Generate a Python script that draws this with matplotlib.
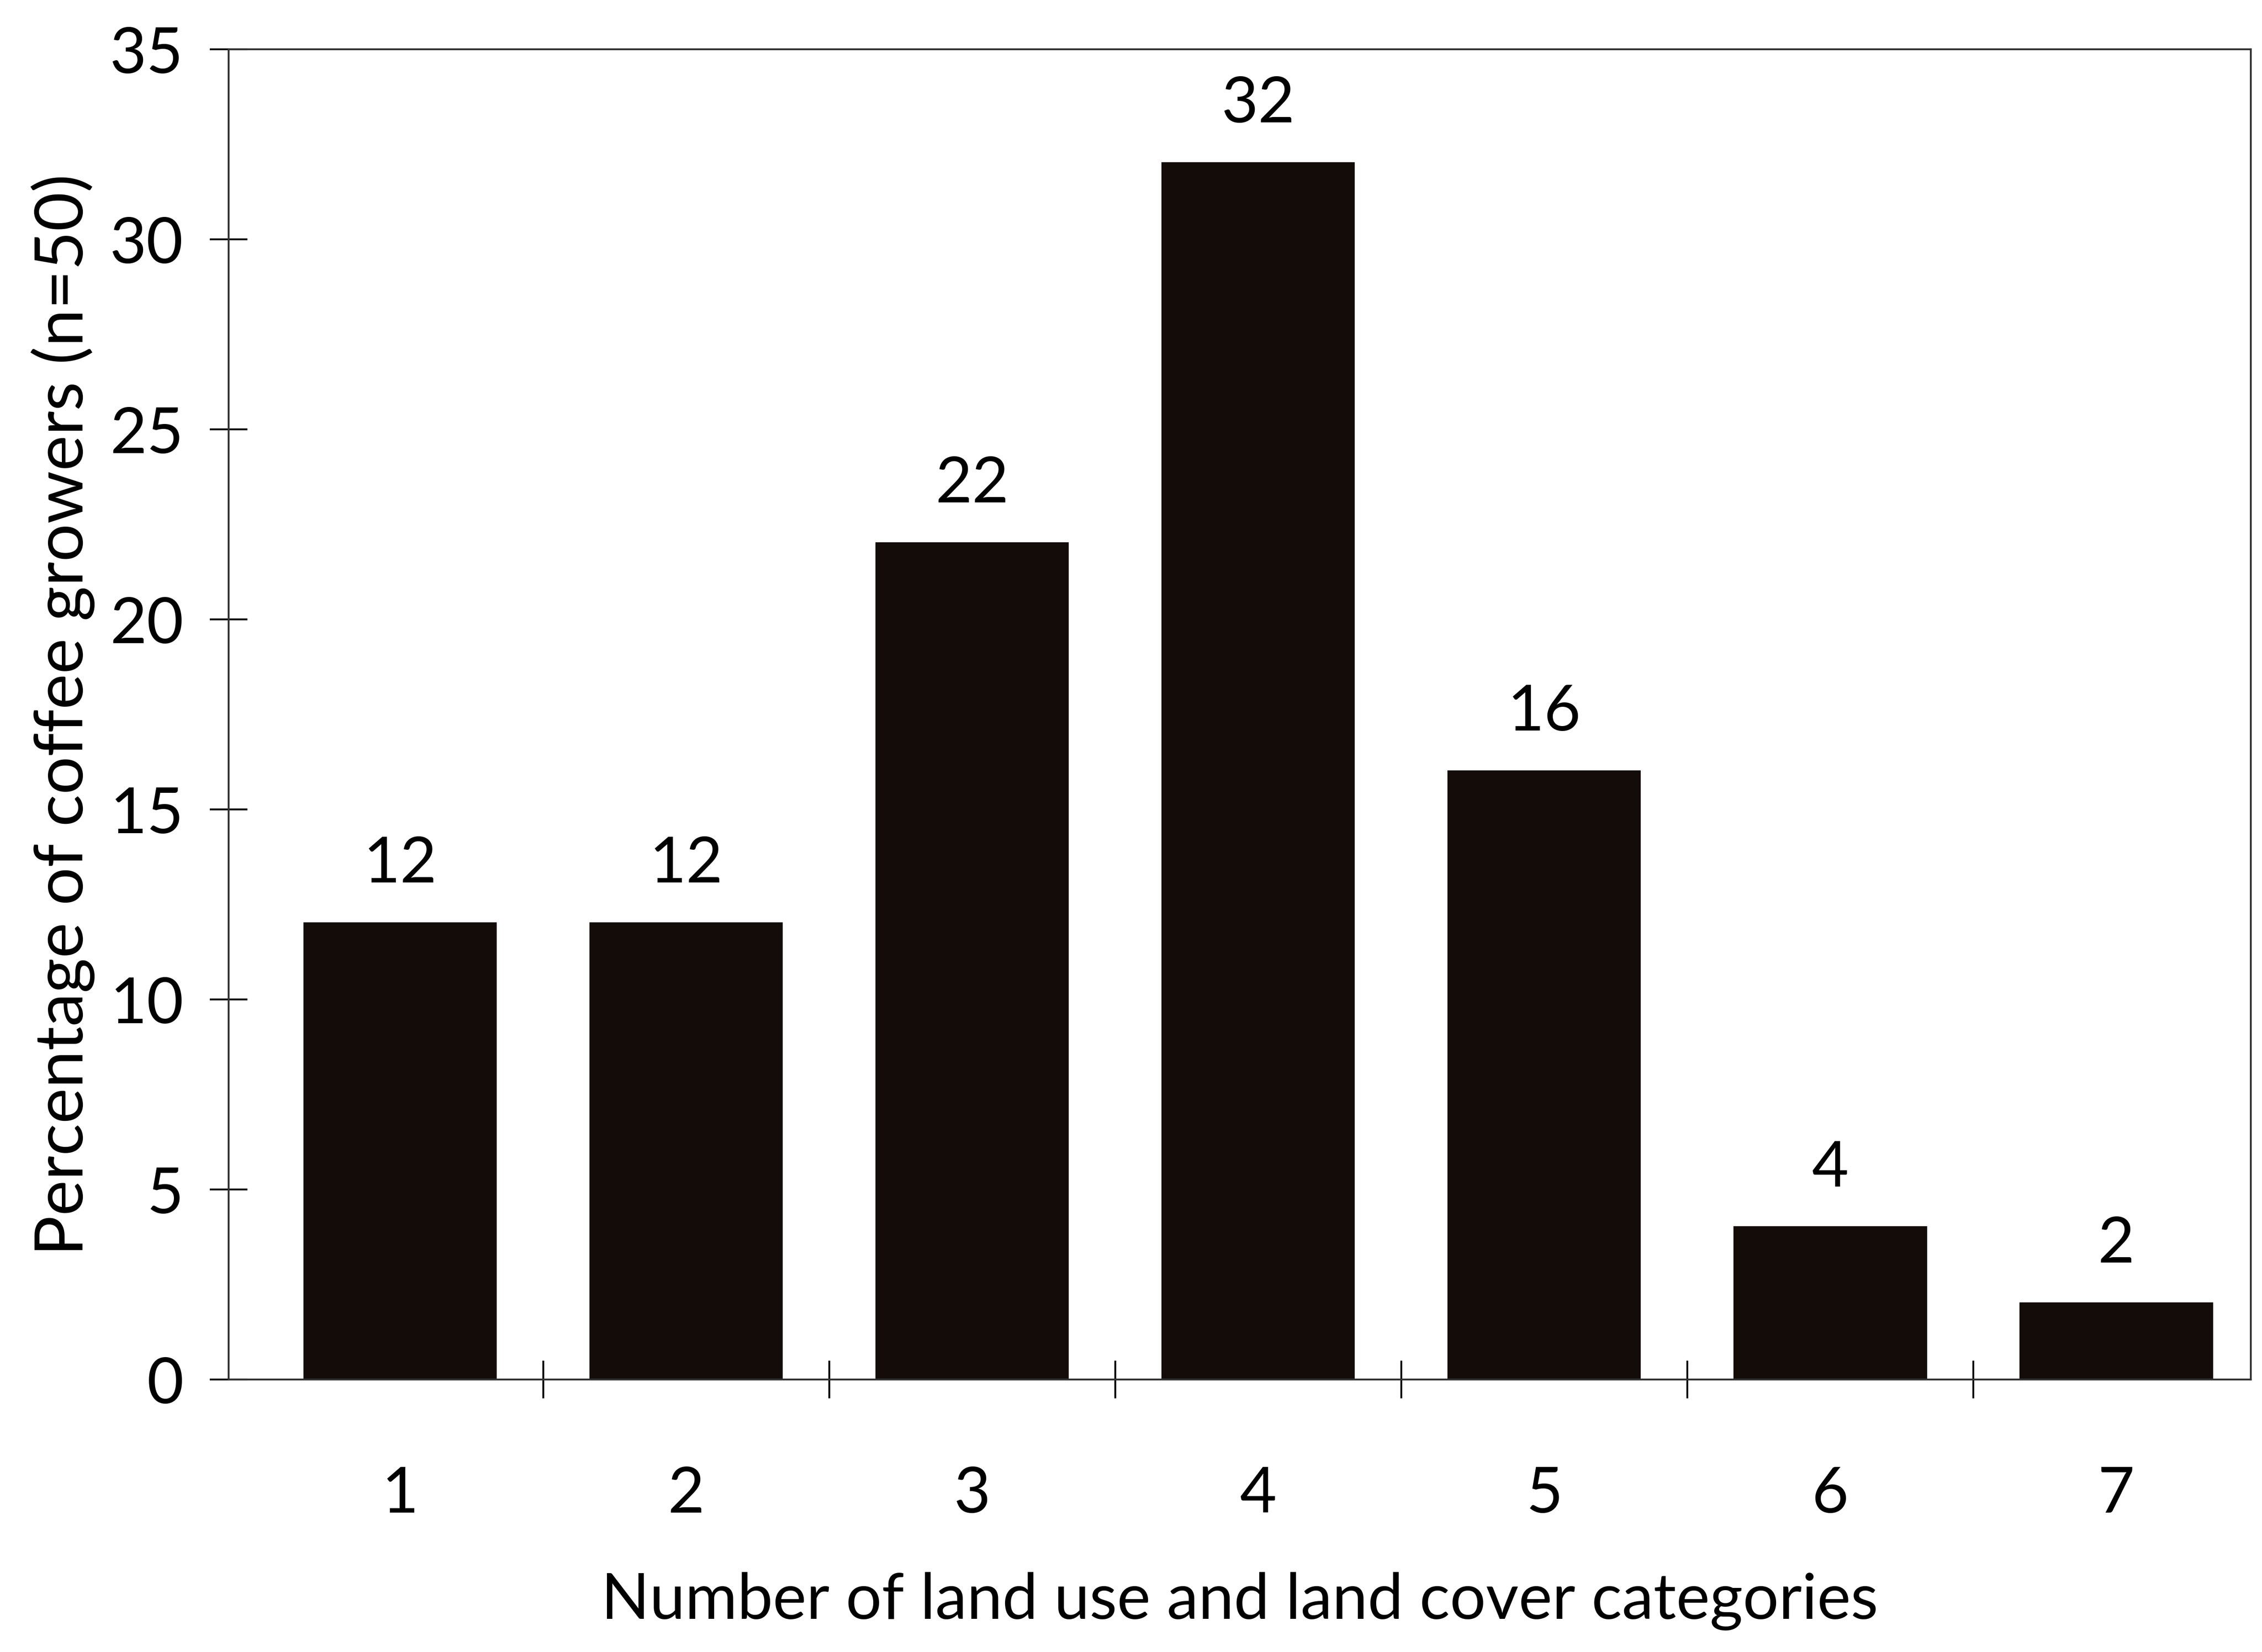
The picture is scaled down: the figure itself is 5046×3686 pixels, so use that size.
import numpy as np
import matplotlib.pyplot as plt

categories = ['1', '2', '3', '4', '5', '6', '7']
percent = [12, 12, 22, 32, 16, 4, 2]
y_ticks = [0, 5, 10, 15, 20, 25, 30, 35]


def main():
    plt.rcParams['font.family'] = ['Lato', 'DejaVu Sans']
    fs = 34

    fig = plt.figure(figsize=(5046 / 300, 3687 / 300), dpi=300)
    ax = fig.add_axes([0.101, 0.165, 0.894, 0.805])

    x = np.arange(1, len(categories) + 1)
    ax.bar(x, percent, width=0.67, color='#140c08', edgecolor='#140c08')

    for xi, val in zip(x, percent):
        ax.text(xi, val + 0.8, str(val), ha='center', va='bottom', fontsize=fs)

    ax.set_xlim(0.4, len(categories) + 0.47)
    ax.set_ylim(0, 35)

    # ticks sit between the categories, labels at centers
    ax.set_xticks(x[:-1] + 0.5)
    ax.set_xticklabels([])
    ax.set_xticks(x, minor=True)
    ax.set_xticklabels(categories, minor=True, fontsize=fs)
    ax.tick_params(axis='x', which='major', direction='inout', length=20, width=1)
    ax.tick_params(axis='x', which='minor', length=0, pad=46)

    ax.set_yticks(y_ticks)
    ax.set_yticklabels([str(v) for v in y_ticks], fontsize=fs)
    ax.tick_params(axis='y', direction='inout', length=20, width=1, pad=14)

    for sp in ax.spines.values():
        sp.set_linewidth(1.0)
        sp.set_color('#333333')

    ax.set_xlabel('Number of land use and land cover categories', fontsize=fs, labelpad=26)
    ax.set_ylabel('Percentage of coffee growers (n=50)', fontsize=36, labelpad=8)

    fig.savefig('out.png', dpi=300, facecolor='white')


if __name__ == "__main__":
    main()
